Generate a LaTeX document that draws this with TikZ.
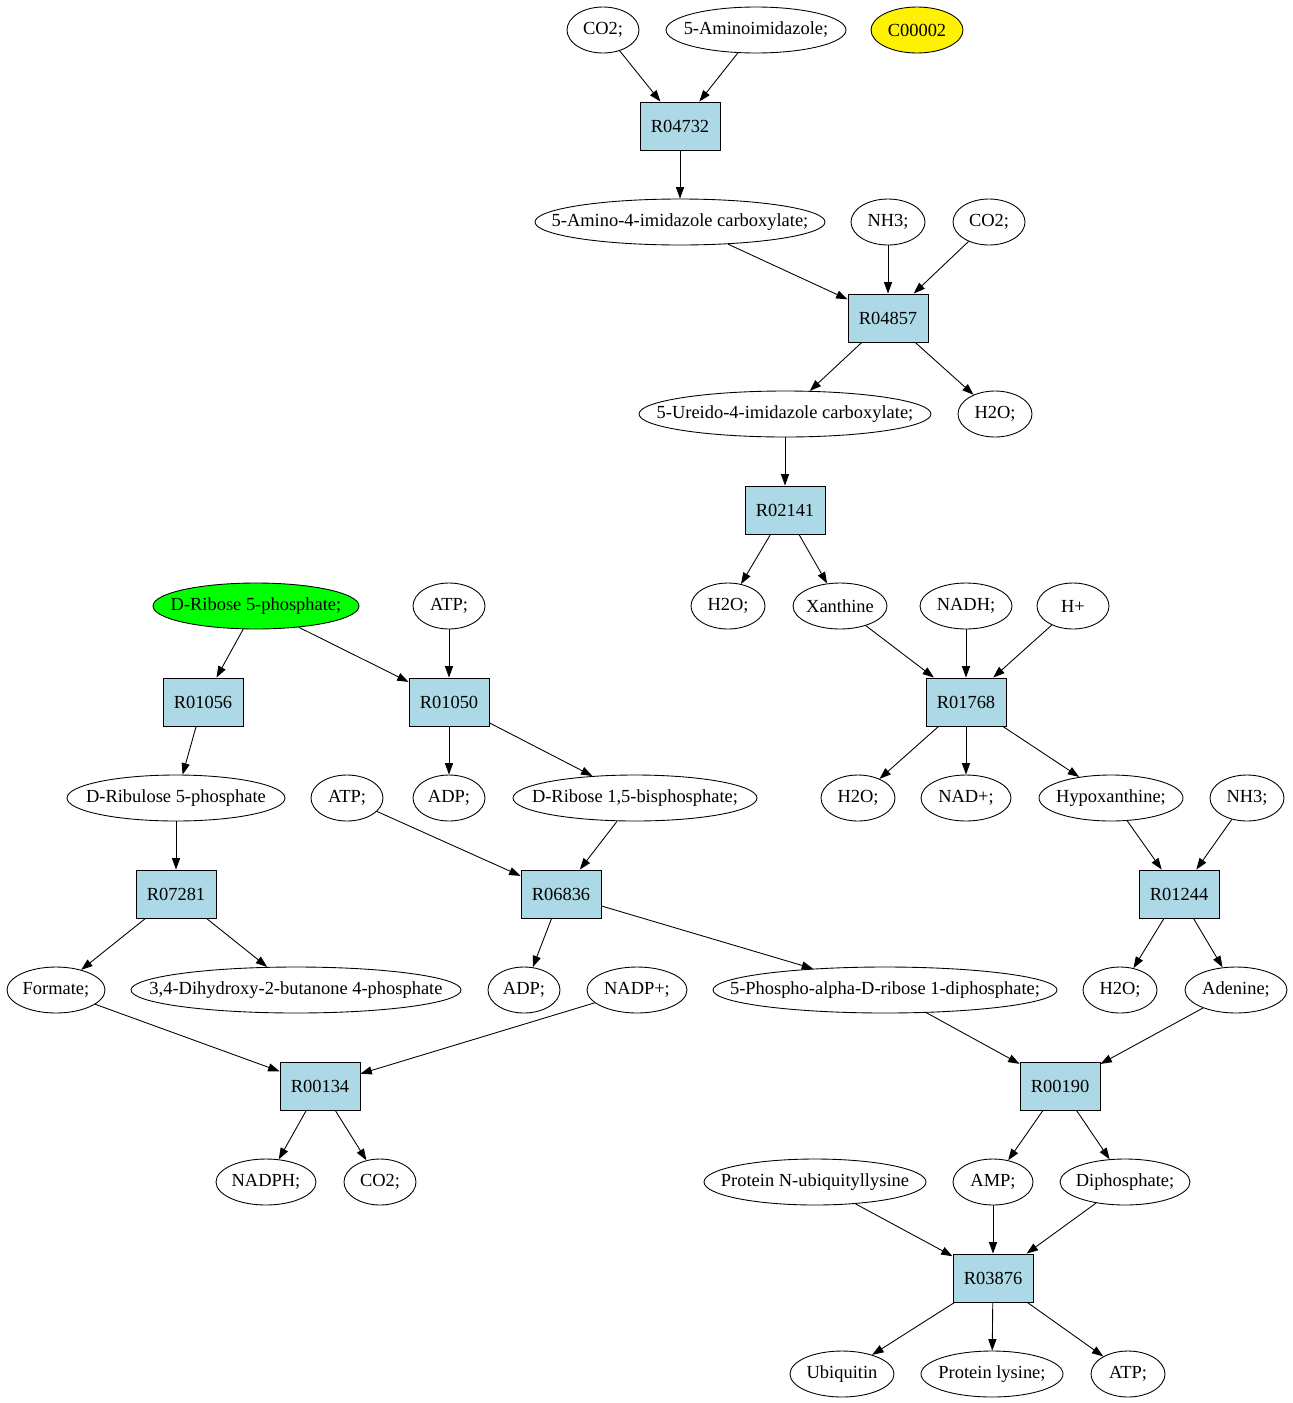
\documentclass[tikz,border=0pt]{standalone}
\usepackage{fontspec}
\setmainfont{Liberation Serif}
\usetikzlibrary{shapes.geometric,arrows.meta}
\definecolor{rxnblue}{RGB}{173,216,230}
\newcommand{\cname}[1]{\makebox[0pt]{\raisebox{-0.8pt}{#1}}}
\tikzstyle{every node}=[font=\fontsize{10.5}{12}\selectfont]
\tikzset{
  cpd/.style={ellipse, draw, inner sep=0pt, minimum height=0.92cm, minimum width=#1*0.02cm},
  rxn/.style={rectangle, draw, fill=rxnblue, minimum width=1.6cm, minimum height=0.96cm}
}

\begin{document}
\begin{tikzpicture}[
            x=0.02cm, y=-0.02cm,
            line width=0.5pt,
            >={Triangle[length=6.5pt,width=4.6pt]}]
        \useasboundingbox (0,0) rectangle (1293,1403);
        % compounds
        \node[cpd=72] (co2a) at (603,30) {\cname{CO2;}};
        \node[cpd=180] (amimid) at (756,30) {\cname{5-Aminoimidazole;}};
        \node[cpd=92, fill=yellow] (c00002) at (917,30) {\cname{C00002}};
        \node[cpd=290] (aicx) at (680,222) {\cname{5-Amino-4-imidazole carboxylate;}};
        \node[cpd=74] (nh3a) at (888,222) {\cname{NH3;}};
        \node[cpd=72] (co2b) at (989,222) {\cname{CO2;}};
        \node[cpd=292] (uicx) at (785,414) {\cname{5-Ureido-4-imidazole carboxylate;}};
        \node[cpd=74] (h2oa) at (995,414) {\cname{H2O;}};
        \node[cpd=206, fill=green] (r5p) at (256,606) {\cname{D-Ribose 5-phosphate;}};
        \node[cpd=72] (atpa) at (449,606) {\cname{ATP;}};
        \node[cpd=74] (h2ob) at (728,606) {\cname{H2O;}};
        \node[cpd=94] (xan) at (840,606) {\cname{Xanthine}};
        \node[cpd=92] (nadh) at (966,606) {\cname{NADH;}};
        \node[cpd=72] (hplus) at (1073,606) {\cname{H+}};
        \node[cpd=218] (ru5p) at (176,798) {\cname{D-Ribulose 5-phosphate}};
        \node[cpd=72] (atpb) at (347,798) {\cname{ATP;}};
        \node[cpd=72] (adpa) at (449,798) {\cname{ADP;}};
        \node[cpd=244] (r15bp) at (635,798) {\cname{D-Ribose 1,5-bisphosphate;}};
        \node[cpd=74] (h2oc) at (858,798) {\cname{H2O;}};
        \node[cpd=90] (nad) at (966,798) {\cname{NAD+;}};
        \node[cpd=144] (hypox) at (1111,798) {\cname{Hypoxanthine;}};
        \node[cpd=74] (nh3b) at (1247,798) {\cname{NH3;}};
        \node[cpd=98] (formate) at (56,990) {\cname{Formate;}};
        \node[cpd=330] (dhbp) at (296,990) {\cname{3,4-Dihydroxy-2-butanone 4-phosphate}};
        \node[cpd=72] (adpb) at (524,990) {\cname{ADP;}};
        \node[cpd=100] (nadp) at (637,990) {\cname{NADP+;}};
        \node[cpd=344] (prpp) at (885,990) {\cname{5-Phospho-alpha-D-ribose 1-diphosphate;}};
        \node[cpd=74] (h2od) at (1120,990) {\cname{H2O;}};
        \node[cpd=102] (aden) at (1236,990) {\cname{Adenine;}};
        \node[cpd=100] (nadph) at (266,1182) {\cname{NADPH;}};
        \node[cpd=72] (co2c) at (380,1182) {\cname{CO2;}};
        \node[cpd=222] (pnub) at (815,1182) {\cname{Protein N-ubiquityllysine}};
        \node[cpd=80] (amp) at (993,1182) {\cname{AMP;}};
        \node[cpd=130] (diph) at (1125,1182) {\cname{Diphosphate;}};
        \node[cpd=104] (ubq) at (842,1374) {\cname{Ubiquitin}};
        \node[cpd=142] (plys) at (992,1374) {\cname{Protein lysine;}};
        \node[cpd=74] (atpc) at (1128,1374) {\cname{ATP;}};
        % reactions
        \node[rxn] (r04732) at (680,126) {\cname{R04732}};
        \node[rxn] (r04857) at (888,318) {\cname{R04857}};
        \node[rxn] (r02141) at (785,510) {\cname{R02141}};
        \node[rxn] (r01056) at (203,702) {\cname{R01056}};
        \node[rxn] (r01050) at (449,702) {\cname{R01050}};
        \node[rxn] (r01768) at (966,702) {\cname{R01768}};
        \node[rxn] (r07281) at (176,894) {\cname{R07281}};
        \node[rxn] (r06836) at (561,894) {\cname{R06836}};
        \node[rxn] (r01244) at (1179,894) {\cname{R01244}};
        \node[rxn] (r00134) at (320,1086) {\cname{R00134}};
        \node[rxn] (r00190) at (1060,1086) {\cname{R00190}};
        \node[rxn] (r03876) at (993,1278) {\cname{R03876}};
        % edges
        \draw[->] (co2a) edge (r04732) (amimid) edge (r04732);
        \draw[->] (r04732) edge (aicx);
        \draw[->] (aicx) edge (r04857) (nh3a) edge (r04857) (co2b) edge (r04857);
        \draw[->] (r04857) edge (uicx) edge (h2oa);
        \draw[->] (uicx) edge (r02141);
        \draw[->] (r02141) edge (h2ob) edge (xan);
        \draw[->] (xan) edge (r01768) (nadh) edge (r01768) (hplus) edge (r01768);
        \draw[->] (r01768) edge (h2oc) edge (nad) edge (hypox);
        \draw[->] (hypox) edge (r01244) (nh3b) edge (r01244);
        \draw[->] (r01244) edge (h2od) edge (aden);
        \draw[->] (r5p) edge (r01056) edge (r01050);
        \draw[->] (atpa) edge (r01050);
        \draw[->] (r01050) edge (adpa) edge (r15bp);
        \draw[->] (r01056) edge (ru5p);
        \draw[->] (ru5p) edge (r07281);
        \draw[->] (r07281) edge (formate) edge (dhbp);
        \draw[->] (atpb) edge (r06836) (r15bp) edge (r06836);
        \draw[->] (r06836) edge (adpb) edge (prpp);
        \draw[->] (formate) edge (r00134) (nadp) edge (r00134);
        \draw[->] (r00134) edge (nadph) edge (co2c);
        \draw[->] (prpp) edge (r00190) (aden) edge (r00190);
        \draw[->] (r00190) edge (amp) edge (diph);
        \draw[->] (pnub) edge (r03876) (amp) edge (r03876) (diph) edge (r03876);
        \draw[->] (r03876) edge (ubq) edge (plys) edge (atpc);
\end{tikzpicture}
\end{document}
